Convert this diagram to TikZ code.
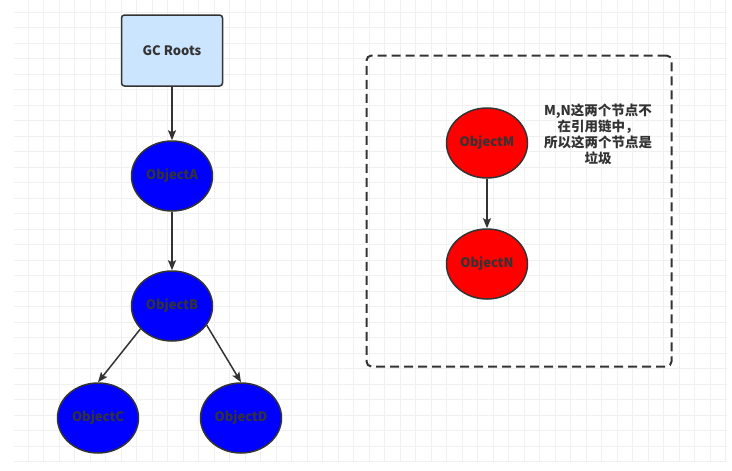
\documentclass[tikz,border=0pt]{standalone}
\usepackage{fontspec}
\setmainfont{Noto Sans CJK SC}
\usetikzlibrary{shapes.geometric,arrows.meta}
\definecolor{linec}{HTML}{333333}
\definecolor{gridc}{HTML}{F0F0F0}
\definecolor{rootfill}{HTML}{CCE5FF}
\definecolor{bluefill}{HTML}{0000FF}
\definecolor{redfill}{HTML}{FF0000}
\tikzset{
  gridline/.style={gridc,line width=0.8pt},
  rootbox/.style={draw=linec,line width=1.5pt,fill=rootfill,rounded corners=3pt,minimum width=101pt,minimum height=71pt,inner sep=0pt,text=linec},
  obj/.style={ellipse,draw=linec,line width=1.5pt,minimum width=81pt,minimum height=70pt,inner sep=0pt,text=linec},
  bluenode/.style={obj,fill=bluefill},
  rednode/.style={obj,fill=redfill},
  dashbox/.style={draw=linec,line width=2pt,dash pattern=on 9pt off 5pt,rounded corners=5pt,minimum width=305pt,minimum height=311pt,inner sep=0pt},
  arr/.style={draw=linec,line width=1.5pt,-{Stealth[length=10pt,width=8pt,inset=2pt]}},
  notetext/.style={align=center,text=linec,font=\bfseries\fontsize{13.5}{16}\selectfont}
}
\begin{document}
\begin{tikzpicture}[x=1pt,y=-1pt,font=\bfseries\fontsize{13}{15}\selectfont]
\useasboundingbox (0,0) rectangle (732,471);
\fill[white] (0,0) rectangle (732,471);
\foreach \k in {1,...,46} \draw[gridline] ({12.5+15.5*\k},0) -- ({12.5+15.5*\k},462);
\foreach \k in {0,...,29} \draw[gridline] (14,{12.3+15.5*\k}) -- (727,{12.3+15.5*\k});

\node[rootbox] (gc) at (172,50.5) {GC Roots};
\node[bluenode] (a) at (172,176) {ObjectA};
\node[bluenode] (b) at (172,306) {ObjectB};
\node[bluenode] (c) at (98,418) {ObjectC};
\node[bluenode] (d) at (241,418) {ObjectD};

\node[dashbox] (box) at (519,211) {};
\node[rednode] (m) at (487,143) {ObjectM};
\node[rednode] (n) at (487,264) {ObjectN};
\node[notetext] (note) at (598,134) {M,N这两个节点不\\在引用链中，\\所以这两个节点是\\垃圾};

\draw[arr] (gc) -- (a);
\draw[arr] (a) -- (b);
\draw[arr] (b.216) -- (c.north);
\draw[arr] (b.331) -- (d.north);
\draw[arr] (m) -- (n);
\end{tikzpicture}
\end{document}
